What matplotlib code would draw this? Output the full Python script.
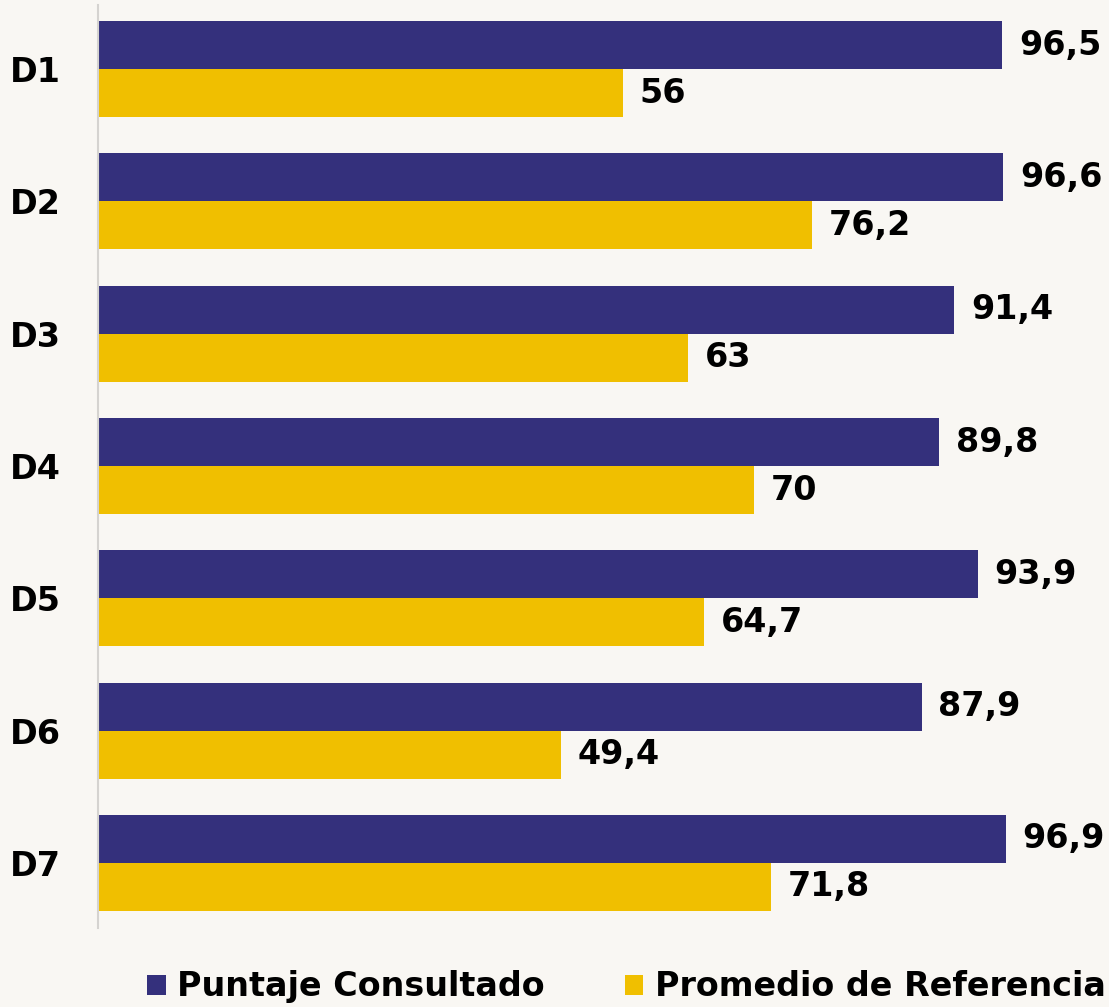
import numpy as np
import matplotlib.pyplot as plt

categories = ["D1", "D2", "D3", "D4", "D5", "D6", "D7"]
puntaje = [96.5, 96.6, 91.4, 89.8, 93.9, 87.9, 96.9]
promedio = [56, 76.2, 63, 70, 64.7, 49.4, 71.8]
series_names = ["Puntaje Consultado", "Promedio de Referencia"]

blue = "#34307C"
yellow = "#F0BF00"
bg = "#F9F7F3"
font = "DejaVu Sans"
fs = 24

fig = plt.figure(figsize=(11.09, 10.07), dpi=100, facecolor=bg)
ax = fig.add_axes([0.0884, 0.0785, 0.9116, 0.9165])
ax.set_facecolor(bg)

y = np.arange(len(categories))
h = 0.3627
b1 = ax.barh(y - h / 2, puntaje, height=h, color=blue, label=series_names[0])
b2 = ax.barh(y + h / 2, promedio, height=h, color=yellow, label=series_names[1])

def fmt(v):
    return ("%g" % v).replace(".", ",")

for bars, vals in [(b1, puntaje), (b2, promedio)]:
    for bar, v in zip(bars, vals):
        ax.annotate(fmt(v), (bar.get_width(), bar.get_y() + bar.get_height() / 2),
                    xytext=(12, 0), textcoords="offset points", va="center", ha="left",
                    fontsize=fs, fontweight="bold", family=font, color="black")

ax.set_xlim(0, 107.9)
ax.set_ylim(6.491, -0.4836)
ax.set_yticks(y)
ax.set_yticklabels(categories, fontsize=fs, fontweight="bold", family=font)
ax.tick_params(axis="y", length=0, pad=27)
ax.set_xticks([])
for s in ["top", "right", "bottom"]:
    ax.spines[s].set_visible(False)
ax.spines["left"].set_color("#D5D3D0")
ax.spines["left"].set_linewidth(1.5)

fig.legend(loc="center left", bbox_to_anchor=(0.133, 0.0199), ncol=2, frameon=False,
           handlelength=0.55, handleheight=0.55, handletextpad=0.35, columnspacing=2.4,
           borderaxespad=0, borderpad=0,
           prop={"family": font, "weight": "bold", "size": fs})

fig.savefig("out.png", dpi=100, facecolor=bg)
